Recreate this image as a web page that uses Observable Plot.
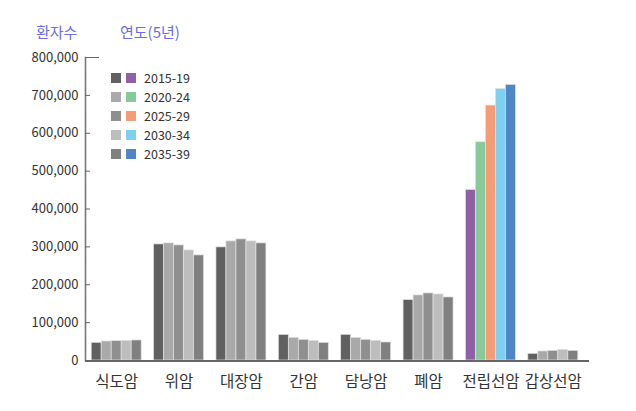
<!DOCTYPE html>
<html>
<head>
<meta charset="utf-8">
<script src="https://cdn.jsdelivr.net/npm/d3@7"></script>
<script src="https://cdn.jsdelivr.net/npm/@observablehq/plot@0.6"></script>
<style>
  body { margin: 0; background: #fff; font-family: "Noto Sans CJK KR", "Noto Sans", sans-serif; }
  #wrap { position: relative; width: 636px; height: 411px; }
  .ttl { position: absolute; top: 21px; font-size: 15px; color: #6b6bea; line-height: 22px; white-space: nowrap; }
  #legend { position: absolute; left: 111px; top: 68px; font-size: 12.5px; color: #333; }
  .row { display: flex; align-items: center; height: 19px; }
  .sw { width: 10px; height: 10px; margin-right: 5px; }
  .sw2 { margin-right: 8px; }
</style>
</head>
<body>
<div id="wrap">
  <div class="ttl" style="left:36px">환자수</div>
  <div class="ttl" style="left:120px">연도(5년)</div>
  <div id="chart"></div>
  <div id="legend"></div>
</div>
<script>
const categories = ["식도암", "위암", "대장암", "간암", "담낭암", "폐암", "전립선암", "갑상선암"];
const periods = ["2015-19", "2020-24", "2025-29", "2030-34", "2035-39"];
const values2015_19 = [46700, 306500, 298700, 67800, 67800, 159500, 450200, 17600];
const values2020_24 = [50200, 309200, 314500, 59900, 59900, 171800, 576200, 23800];
const values2025_29 = [51000, 303900, 319800, 54600, 54600, 177100, 673100, 25500];
const values2030_34 = [52000, 290700, 314500, 52000, 52000, 174400, 717100, 28200];
const values2035_39 = [52900, 277500, 309200, 46700, 47600, 166500, 727700, 25500];
const yTicks = [0, 100000, 200000, 300000, 400000, 500000, 600000, 700000, 800000];
const grayColors = ["#606060", "#a9a9a9", "#8f8f8f", "#bdbdbd", "#808080"];
const highlightColors = ["#9060a4", "#88c999", "#f49c76", "#7fcff2", "#5086c6"];
const highlightCategory = "전립선암";

const series = [values2015_19, values2020_24, values2025_29, values2030_34, values2035_39];
const rows = categories.flatMap((c, i) => periods.map((p, j) => ({
  category: c, period: p, value: series[j][i],
  color: c === highlightCategory ? highlightColors[j] : grayColors[j]
})));

const plot = Plot.plot({
  width: 636, height: 411,
  marginLeft: 85, marginRight: 52, marginTop: 57, marginBottom: 51,
  style: { fontFamily: '"Noto Sans CJK KR", "Noto Sans", sans-serif', fontSize: "13px", color: "#333", background: "#fff" },
  fx: { domain: categories, padding: 0, round: false, label: null },
  x: { domain: periods, paddingInner: 0, paddingOuter: 0.62, round: false, axis: null },
  y: { domain: [0, 800000], label: null },
  color: { type: "identity" },
  marks: [
    Plot.barY(rows, { fx: "category", x: "period", y: "value", fill: "color", stroke: "#e2e2e2", strokeWidth: 0.7 }),
    Plot.ruleY([0], { stroke: "#666", strokeWidth: 2, insetRight: -5, shapeRendering: "crispEdges" }),
    Plot.frame({ anchor: "left", facetAnchor: "left", stroke: "#777", strokeWidth: 1.6 }),
    Plot.axisY({ ticks: yTicks, tickFormat: d3.format(","), tickSize: -5, tickPadding: 12, fontSize: 13, stroke: "#666", label: null }),
    Plot.axisY({ ticks: [800000], tickFormat: () => "", tickSize: -14, stroke: "#666", label: null }),
    Plot.axisFx({ anchor: "bottom", tickSize: 0, tickPadding: 15, fontSize: 15.5, label: null })
  ]
});
document.getElementById("chart").appendChild(plot);

const legend = document.getElementById("legend");
periods.forEach((p, j) => {
  const row = document.createElement("div");
  row.className = "row";
  row.innerHTML = `<div class="sw" style="background:${grayColors[j]}"></div><div class="sw sw2" style="background:${highlightColors[j]}"></div><span>${p}</span>`;
  legend.appendChild(row);
});
</script>
</body>
</html>
